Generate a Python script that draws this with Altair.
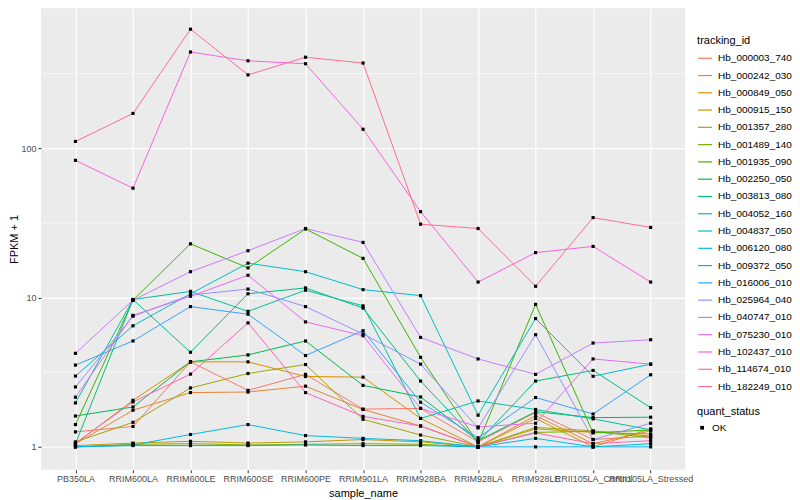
import altair as alt
import pandas as pd

samples = ["PB350LA", "RRIM600LA", "RRIM600LE", "RRIM600SE", "RRIM600PE", "RRIM901LA",
           "RRIM928BA", "RRIM928LA", "RRIM928LE", "RRII105LA_Control", "RRII105LA_Stressed"]

ids = ["Hb_000003_740", "Hb_000242_030", "Hb_000849_050", "Hb_000915_150", "Hb_001357_280",
       "Hb_001489_140", "Hb_001935_090", "Hb_002250_050", "Hb_003813_080", "Hb_004052_160",
       "Hb_004837_050", "Hb_006120_080", "Hb_009372_050", "Hb_016006_010", "Hb_025964_040",
       "Hb_040747_010", "Hb_075230_010", "Hb_102437_010", "Hb_114674_010", "Hb_182249_010"]

colors = ["#F8766D", "#EA8331", "#D89000", "#C09B00", "#A3A500", "#7CAE00", "#39B600", "#00BB4E",
          "#00BF7D", "#00C1A3", "#00BFC4", "#00BAE0", "#00B0F6", "#35A2FF", "#9590FF", "#C77CFF",
          "#E76BF3", "#FA62DB", "#FF62BC", "#FF6C91"]

s_000003_740 = [1.26, 1.37, 3.71, 2.39, 3.06, 1.79, 1.81, 1.08, 1.70, 1.12, 1.18]
s_000242_030 = [1.05, 1.76, 2.31, 2.33, 2.55, 1.78, 1.38, 1.00, 1.62, 1.05, 1.28]
s_000849_050 = [1.05, 2.05, 3.71, 3.71, 2.96, 2.93, 1.55, 1.00, 1.55, 1.00, 1.32]
s_000915_150 = [1.02, 1.06, 1.09, 1.06, 1.08, 1.12, 1.08, 1.00, 1.32, 1.25, 1.22]
s_001357_280 = [1.08, 1.46, 2.48, 3.10, 3.56, 1.53, 1.20, 1.00, 1.35, 1.28, 1.18]
s_001489_140 = [1.00, 1.04, 1.05, 1.03, 1.04, 1.05, 1.04, 1.00, 1.25, 1.27, 1.15]
s_001935_090 = [1.41, 9.6, 22.9, 15.8, 28.8, 18.3, 3.98, 1.06, 9.0, 1.24, 1.30]
s_002250_050 = [1.61, 1.85, 3.71, 4.13, 5.12, 2.58, 2.16, 1.10, 1.72, 1.57, 1.58]
s_003813_080 = [1.05, 9.7, 4.3, 10.6, 11.6, 8.5, 2.76, 1.08, 2.76, 3.25, 1.83]
s_004052_160 = [1.97, 9.7, 11.0, 8.08, 11.2, 8.8, 1.55, 2.03, 1.78, 1.54, 1.30]
s_004837_050 = [2.98, 6.47, 10.6, 17.0, 14.9, 11.3, 10.3, 1.63, 7.23, 2.97, 3.58]
s_006120_080 = [1.00, 1.03, 1.21, 1.41, 1.19, 1.14, 1.10, 1.00, 1.14, 1.00, 1.05]
s_009372_050 = [1.00, 1.02, 1.02, 1.02, 1.03, 1.02, 1.02, 1.00, 1.00, 1.00, 1.00]
s_016006_010 = [3.53, 5.12, 8.7, 7.73, 4.09, 6.0, 1.99, 1.15, 2.14, 1.66, 3.04]
s_025964_040 = [2.52, 7.5, 10.4, 11.4, 8.7, 5.7, 3.58, 1.34, 5.64, 1.12, 1.44]
s_040747_010 = [4.23, 9.6, 14.9, 20.6, 29.0, 23.4, 5.41, 3.88, 3.06, 4.96, 5.22]
s_075230_010 = [2.15, 7.6, 10.2, 14.1, 6.87, 5.55, 1.81, 1.36, 1.44, 3.88, 3.58]
s_102437_010 = [83, 54, 441, 385, 368, 134, 37.6, 12.7, 20.0, 22.0, 12.7]
s_114674_010 = [1.06, 2.00, 3.07, 6.77, 2.31, 1.60, 1.38, 1.00, 1.24, 1.05, 1.10]
s_182249_010 = [111, 171, 627, 310, 407, 372, 31.0, 29.0, 11.9, 34.3, 29.5]

series = [s_000003_740, s_000242_030, s_000849_050, s_000915_150, s_001357_280,
          s_001489_140, s_001935_090, s_002250_050, s_003813_080, s_004052_160,
          s_004837_050, s_006120_080, s_009372_050, s_016006_010, s_025964_040,
          s_040747_010, s_075230_010, s_102437_010, s_114674_010, s_182249_010]

y_ticks = [1, 10, 100]
minor_ticks = [3.1623, 31.623, 316.23]

rows = []
for tid, vals in zip(ids, series):
    for s, v in zip(samples, vals):
        rows.append({"tracking_id": tid, "sample_name": s, "fpkm": v, "quant_status": "OK"})
df = pd.DataFrame(rows)
minor_df = pd.DataFrame({"fpkm": minor_ticks})

FONT = "Liberation Sans"

y_scale = alt.Scale(type="log", domain=[0.703, 865], nice=False)
y_axis = alt.Axis(title="FPKM + 1", values=y_ticks, format="d", grid=True)

x_enc = alt.X("sample_name:N", sort=samples,
              scale=alt.Scale(type="point", padding=0.6),
              axis=alt.Axis(title="sample_name", labelAngle=0, grid=True))
y_enc = alt.Y("fpkm:Q", scale=y_scale, axis=y_axis)

minor = alt.Chart(minor_df).mark_rule(color="white", strokeWidth=0.6).encode(
    y=alt.Y("fpkm:Q", scale=y_scale, axis=y_axis)
)

lines = alt.Chart(df).mark_line(strokeWidth=1).encode(
    x=x_enc, y=y_enc,
    color=alt.Color("tracking_id:N", scale=alt.Scale(domain=ids, range=colors),
                    legend=alt.Legend(title="tracking_id", orient="none", legendX=657, legendY=27,
                                      symbolType="stroke", symbolSize=196, symbolStrokeWidth=1.2,
                                      rowPadding=4.3, titlePadding=4, padding=0))
)

points = alt.Chart(df).mark_point(filled=True, size=10, opacity=1, color="black").encode(
    x=x_enc, y=y_enc,
    shape=alt.Shape("quant_status:N", scale=alt.Scale(domain=["OK"], range=["square"]),
                    legend=alt.Legend(title="quant_status", orient="none", legendX=657, legendY=398,
                                      symbolFillColor="black", symbolStrokeColor="black",
                                      symbolSize=14, titlePadding=6, padding=0))
)

chart = alt.layer(minor, lines, points).properties(
    width=645, height=462, padding={"left": 0, "top": 0, "right": 0, "bottom": 0}
).configure_view(
    fill="#EBEBEB", stroke=None
).configure_axis(
    gridColor="white", gridWidth=1.2, domain=False, tickColor="#333333", tickSize=3,
    labelColor="#4D4D4D", labelFont=FONT, labelFontSize=9, labelPadding=2,
    titleFont=FONT, titleFontSize=11, titleFontWeight="normal", titleColor="black"
).configure_axisX(
    titlePadding=4
).configure_axisY(
    titlePadding=1
).configure_legend(
    labelFont=FONT, labelFontSize=10, labelColor="black",
    titleFont=FONT, titleFontSize=11, titleFontWeight="normal", titleColor="black",
    labelOffset=5
)

chart.save("out.html", embed_options={"renderer": "svg", "actions": False})
